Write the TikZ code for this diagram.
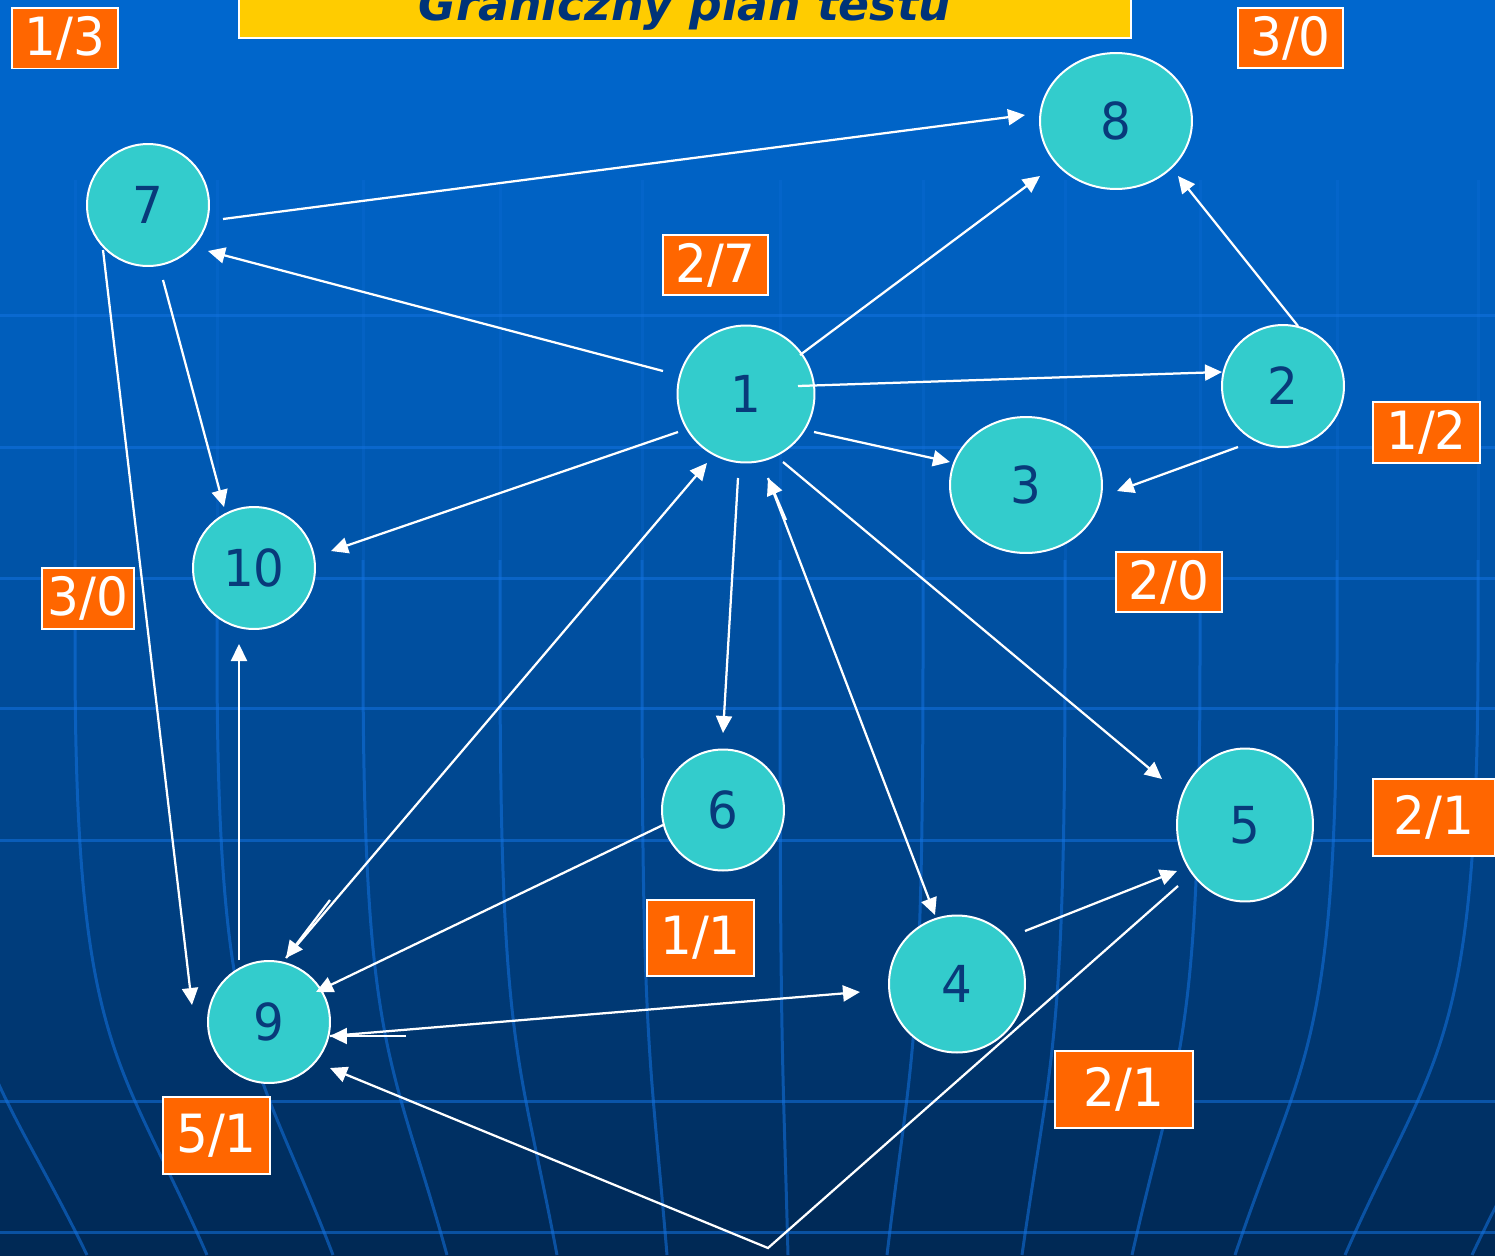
\documentclass[tikz,border=0pt]{standalone}
\usepackage{fontspec}
\setmainfont{DejaVu Sans}
\newfontfamily\numfont{DejaVu Sans}[FakeStretch=0.95]
\newfontfamily\titlefont{DejaVu Sans}
\usetikzlibrary{arrows.meta,shapes.geometric}
\definecolor{bgA}{RGB}{0,103,206}
\definecolor{bgB}{RGB}{0,92,184}
\definecolor{bgC}{RGB}{0,70,142}
\definecolor{bgD}{RGB}{0,40,84}
\definecolor{gridc}{RGB}{20,115,225}
\definecolor{vfill}{RGB}{51,204,204}
\definecolor{vtext}{RGB}{8,58,122}
\definecolor{lorange}{RGB}{255,102,0}
\definecolor{tyellow}{RGB}{255,204,0}
\definecolor{ttext}{RGB}{0,51,120}
\tikzset{
  vtx/.style={ellipse, draw=white, line width=0.04cm, fill=vfill, text=vtext, inner sep=0pt,
    font=\numfont\fontsize{29}{32}\selectfont},
  lab/.style={rectangle, draw=white, line width=0.04cm, fill=lorange, text=white, inner sep=0pt,
    font=\numfont\fontsize{30}{33}\selectfont},
  arr/.style={draw=white, line width=0.045cm, -{Triangle[length=0.34cm,width=0.32cm]}},
  gridline/.style={line width=0.06cm, draw=gridc, draw opacity=0.55},
  gridfaint/.style={line width=0.06cm, draw=gridc, draw opacity=0.22},
  titlebox/.style={rectangle, draw=white, line width=0.04cm, fill=tyellow, text=ttext, inner sep=0pt,
    font=\titlefont\bfseries\itshape\fontsize{26}{30}\selectfont}
}
\begin{document}
\begin{tikzpicture}[x=0.02cm,y=-0.02cm]
\useasboundingbox (0,0) rectangle (1495,1255);
% background gradient in strips
\foreach \i in {0,...,39}{
  \pgfmathsetmacro{\p}{100-\i*2.5}
  \fill[bgA!\p!bgB] (0,\i*10) rectangle (1495,\i*10+11);
}
\foreach \i in {0,...,39}{
  \pgfmathsetmacro{\p}{100-\i*2.5}
  \fill[bgB!\p!bgC] (0,400+\i*10) rectangle (1495,400+\i*10+11);
}
\foreach \i in {0,...,45}{
  \pgfmathsetmacro{\p}{100-\i*100/45}
  \fill[bgC!\p!bgD] (0,800+\i*10) rectangle (1495,800+\i*10+11);
}
% grid
\foreach \yy in {315,447,578,708,840,1101,1232}
  \draw[gridline] (0,\yy) -- (1495,\yy);
\foreach \xx/\dd in {-60/147,75/132,217/116,363/84,500/57,642/25,780/8,923/-36,1065/-43,1200/-68,1337/-102,1478/-133,1615/-143}{
  \draw[gridfaint] (\xx,180) -- (\xx,560);
  \draw[gridline] (\xx,560) -- (\xx,650) .. controls (\xx,1053.3) and ({\xx+\dd/3},1053.3) .. ({\xx+\dd},1255);
}
% title
\node[titlebox, anchor=base, text height=0.7cm, text depth=0.36cm, minimum width=17.84cm] (title) at (685,20) {Graniczny plan testu};
% vertices
\node[vtx, minimum width=2.74cm, minimum height=2.74cm] (n1) at (746,394) {1};
\node[vtx, minimum width=2.44cm, minimum height=2.44cm] (n2) at (1283,386) {2};
\node[vtx, minimum width=3.04cm, minimum height=2.72cm] (n3) at (1026,485) {3};
\node[vtx, minimum width=2.72cm, minimum height=2.74cm] (n4) at (957,984) {4};
\node[vtx, minimum width=2.72cm, minimum height=3.06cm] (n5) at (1245,825) {5};
\node[vtx, minimum width=2.44cm, minimum height=2.42cm] (n6) at (723,810) {6};
\node[vtx, minimum width=2.44cm, minimum height=2.44cm] (n7) at (148,205) {7};
\node[vtx, minimum width=3.04cm, minimum height=2.72cm] (n8) at (1116,121) {8};
\node[vtx, minimum width=2.44cm, minimum height=2.44cm] (n9) at (269,1022) {9};
\node[vtx, minimum width=2.44cm, minimum height=2.44cm] (n10) at (254,568) {10};
% labels
\node[lab, minimum width=2.14cm, minimum height=1.22cm] (l13) at (65,38) {1/3};
\node[lab, minimum width=2.1cm, minimum height=1.2cm] (l30a) at (1290.5,38) {3/0};
\node[lab, minimum width=2.1cm, minimum height=1.2cm] (l27) at (715.5,265) {2/7};
\node[lab, minimum width=2.14cm, minimum height=1.22cm] (l12) at (1426.5,432) {1/2};
\node[lab, minimum width=2.12cm, minimum height=1.2cm] (l20) at (1169,582) {2/0};
\node[lab, minimum width=1.84cm, minimum height=1.22cm] (l30b) at (88,598.5) {3/0};
\node[lab, minimum width=2.44cm, minimum height=1.54cm] (l21a) at (1434,817.5) {2/1};
\node[lab, minimum width=2.14cm, minimum height=1.52cm] (l11) at (700.5,938) {1/1};
\node[lab, minimum width=2.76cm, minimum height=1.54cm] (l21b) at (1124,1089.5) {2/1};
\node[lab, minimum width=2.14cm, minimum height=1.54cm] (l51) at (216.5,1135.5) {5/1};
% edges
\draw[arr] ([shift={(75,14)}]n7.center) -- ([shift={(-91,-6)}]n8.center);
\draw[arr] ([shift={(-83,-23)}]n1.center) -- ([shift={(60,46)}]n7.center);
\draw[arr] ([shift={(54,-39)}]n1.center) -- ([shift={(-76,55)}]n8.center);
\draw[arr] ([shift={(15,-60)}]n2.center) -- ([shift={(62,55)}]n8.center);
\draw[arr] ([shift={(52,-8)}]n1.center) -- ([shift={(-61,-14)}]n2.center);
\draw[arr] ([shift={(68,38)}]n1.center) -- ([shift={(-76,-23)}]n3.center);
\draw[arr] ([shift={(-45,61)}]n2.center) -- ([shift={(91,6)}]n3.center);
\draw[arr] ([shift={(-68,38)}]n1.center) -- ([shift={(77,-17)}]n10.center);
\draw[arr] ([shift={(15,75)}]n7.center) -- ([shift={(-30,-61)}]n10.center);
\draw[arr] ([shift={(-45,45)}]n7.center) -- ([shift={(-77,-17)}]n9.center);
\draw[arr] ([shift={(-30,-62)}]n9.center) -- ([shift={(-15,76)}]n10.center);
\draw[arr] ([shift={(-8,84)}]n1.center) -- ([shift={(0,-77)}]n6.center);
\draw[arr] ([shift={(17,-64)}]n9.center) -- ([shift={(-39,69)}]n1.center);
\draw[arr] ([shift={(-416,506)}]n1.center) -- ([shift={(17,-64)}]n9.center);
\draw[arr] ([shift={(-60,15)}]n6.center) -- ([shift={(47,-30)}]n9.center);
\draw[arr] ([shift={(61,14)}]n9.center) -- ([shift={(-97,8)}]n4.center);
\draw[arr] ([shift={(-551,52)}]n4.center) -- ([shift={(61,14)}]n9.center);
\draw[arr] ([shift={(22,84)}]n1.center) -- ([shift={(-22,-69)}]n4.center);
\draw[arr] ([shift={(-171,-464)}]n4.center) -- ([shift={(22,84)}]n1.center);
\draw[arr] ([shift={(37,68)}]n1.center) -- ([shift={(-83,-46)}]n5.center);
\draw[arr] ([shift={(68,-53)}]n4.center) -- ([shift={(-68,46)}]n5.center);
\coordinate (c59) at (768,1248);
\draw[arr] ([shift={(-67,61)}]n5.center) -- (c59) -- ([shift={(61,46)}]n9.center);
\end{tikzpicture}
\end{document}
